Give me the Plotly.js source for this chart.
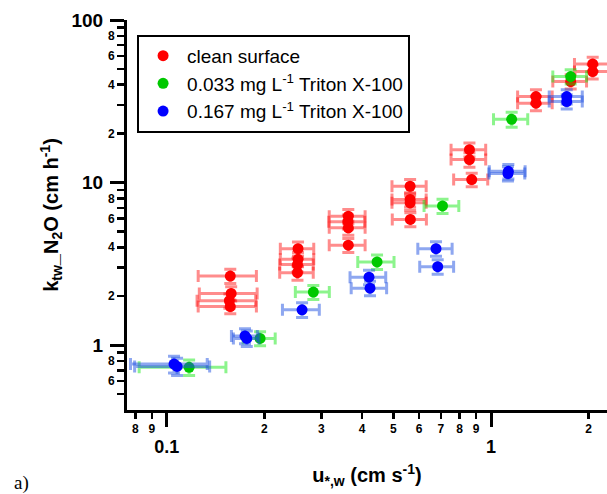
<!DOCTYPE html>
<html>
<head>
<meta charset="utf-8">
<script src="https://cdn.plot.ly/plotly-3.0.1.min.js"></script>
<style>html,body{margin:0;padding:0;background:#fff;}#chart{width:607px;height:494px;}</style>
</head>
<body>
<div id="chart"></div>
<script>
// ---- data ----
const seriesNames = ["clean surface", "0.033 mg L<sup>-1</sup> Triton X-100", "0.167 mg L<sup>-1</sup> Triton X-100"];

const cleanX    = [0.157, 0.158, 0.156, 0.157, 0.254, 0.254, 0.253, 0.253, 0.363, 0.362, 0.363, 0.363, 0.563, 0.563, 0.563, 0.564, 0.858, 0.858, 0.872, 1.376, 1.376, 1.761, 2.059, 2.059];
const cleanY    = [2.66, 2.08, 1.875, 1.727, 3.92, 3.37, 3.13, 2.79, 6.21, 5.75, 5.27, 4.12, 9.49, 7.87, 7.51, 5.93, 15.94, 13.84, 10.43, 33.8, 30.8, 41.8, 53.7, 48.2];
const cleanXerr = [0.032, 0.032, 0.032, 0.032, 0.03, 0.03, 0.03, 0.03, 0.046, 0.046, 0.046, 0.046, 0.068, 0.068, 0.068, 0.068, 0.105, 0.105, 0.105, 0.168, 0.168, 0.21, 0.25, 0.25];
const cleanYerr = [0.27, 0.21, 0.19, 0.17, 0.39, 0.34, 0.31, 0.28, 0.62, 0.57, 0.53, 0.41, 0.95, 0.79, 0.75, 0.59, 1.6, 1.4, 1.0, 3.4, 3.1, 4.2, 5.4, 4.8];

const lowX    = [0.1172, 0.194, 0.2832, 0.4452, 0.7087, 1.158, 1.761];
const lowY    = [0.730, 1.10, 2.12, 3.25, 7.18, 24.5, 44.9];
const lowXerr = [0.035, 0.022, 0.034, 0.057, 0.087, 0.14, 0.21];
const lowYerr = [0.08, 0.11, 0.21, 0.33, 0.72, 2.6, 4.5];

const highX    = [0.1053, 0.1076, 0.1743, 0.1765, 0.2614, 0.4205, 0.4235, 0.6767, 0.6848, 1.131, 1.128, 1.712, 1.712];
const highY    = [0.765, 0.740, 1.14, 1.10, 1.65, 2.62, 2.24, 3.92, 3.04, 11.73, 11.36, 33.8, 31.5];
const highXerr = [0.028, 0.028, 0.016, 0.016, 0.034, 0.053, 0.053, 0.082, 0.082, 0.143, 0.143, 0.2, 0.2];
const highYerr = [0.09, 0.09, 0.12, 0.12, 0.17, 0.27, 0.23, 0.4, 0.31, 1.2, 1.15, 3.4, 3.2];

// tick labels
const xMajorVals = [0.1, 1];
const xMajorText = ["0.1", "1"];
const xMinorVals = [0.08, 0.09, 0.2, 0.3, 0.4, 0.5, 0.6, 0.7, 0.8, 0.9, 2];
const xMinorText = ["8", "9", "2", "3", "4", "5", "6", "7", "8", "9", "2"];
const yMajorVals = [1, 10, 100];
const yMajorText = ["1", "10", "100"];
const yMinorVals = [0.5, 0.6, 0.7, 0.8, 0.9, 2, 3, 4, 5, 6, 7, 8, 9, 20, 30, 40, 50, 60, 70, 80, 90];
const yMinorText = ["", "6", "", "8", "", "2", "", "4", "", "6", "", "8", "", "2", "", "4", "", "6", "", "8", ""];

const FONT = "Arial, 'Liberation Sans', sans-serif";
const xRange = [Math.log10(0.0754), Math.log10(2.279)];
const yRange = [Math.log10(0.399), 2];

function mk(name, x, y, ex, ey, col, ebcol) {
  return {
    type: "scatter", mode: "markers", name: name, x: x, y: y,
    marker: {color: col, size: 11, line: {width: 0}},
    error_x: {type: "data", array: ex, visible: true, color: ebcol, thickness: 3, width: 6},
    error_y: {type: "data", array: ey, visible: true, color: ebcol, thickness: 3, width: 6},
    xaxis: "x", yaxis: "y"
  };
}

const traces = [
  mk(seriesNames[0], cleanX, cleanY, cleanXerr, cleanYerr, "#ff0000", "rgba(255,0,0,0.45)"),
  mk(seriesNames[1], lowX, lowY, lowXerr, lowYerr, "#00c800", "rgba(0,230,0,0.45)"),
  mk(seriesNames[2], highX, highY, highXerr, highYerr, "#0000ff", "rgba(30,80,225,0.5)"),
  // empty trace so the overlaid minor-tick axes get drawn
  {type: "scatter", mode: "markers", x: [], y: [], xaxis: "x2", yaxis: "y2", showlegend: false, hoverinfo: "skip"}
];

const axCommon = {type: "log", showgrid: false, zeroline: false, ticks: "outside", tickcolor: "#000", color: "#000"};

const layout = {
  width: 607, height: 494,
  margin: {l: 127, r: 0, t: 20, b: 84, pad: 0},
  paper_bgcolor: "#fff", plot_bgcolor: "#fff",
  font: {family: FONT, color: "#000"},
  showlegend: true,
  legend: {
    x: 0.021, y: 0.962, xanchor: "left", yanchor: "top",
    bordercolor: "#000", borderwidth: 2, bgcolor: "#fff",
    itemwidth: 38,
    font: {family: FONT, size: 19, color: "#000"}
  },
  xaxis: Object.assign({}, axCommon, {
    range: xRange, tickmode: "array", tickvals: xMajorVals, ticktext: xMajorText,
    ticklen: 14, tickwidth: 3, showline: true, linewidth: 3, linecolor: "#000",
    tickfont: {family: FONT, size: 18, weight: "bold"}, ticklabelstandoff: 4,
    title: {text: "u<sub>*,w</sub> (cm s<sup>-1</sup>)", font: {family: FONT, size: 20, weight: "bold"}, standoff: 13}
  }),
  xaxis2: Object.assign({}, axCommon, {
    range: xRange, overlaying: "x", anchor: "y", side: "bottom",
    tickmode: "array", tickvals: xMinorVals, ticktext: xMinorText,
    ticklen: 8, tickwidth: 2.5, showline: false,
    tickfont: {family: FONT, size: 12, weight: "bold"}, ticklabelstandoff: 0
  }),
  yaxis: Object.assign({}, axCommon, {
    range: yRange, tickmode: "array", tickvals: yMajorVals, ticktext: yMajorText,
    ticklen: 14, tickwidth: 3, showline: true, linewidth: 3, linecolor: "#000",
    tickfont: {family: FONT, size: 19, weight: "bold"}, ticklabelstandoff: 3,
    title: {text: "k<sub>tw</sub>_N<sub>2</sub>O (cm h<sup>-1</sup>)", font: {family: FONT, size: 20, weight: "bold"}, standoff: 8}
  }),
  yaxis2: Object.assign({}, axCommon, {
    range: yRange, overlaying: "y", anchor: "x", side: "left",
    tickmode: "array", tickvals: yMinorVals, ticktext: yMinorText,
    ticklen: 9, tickwidth: 2.5, showline: false,
    tickfont: {family: FONT, size: 12, weight: "bold"}, ticklabelstandoff: 0
  }),
  annotations: [{
    text: "a)", xref: "paper", yref: "paper", x: -0.24, y: -0.187,
    xanchor: "left", yanchor: "middle", showarrow: false,
    font: {family: "'Times New Roman', 'Liberation Serif', serif", size: 19, color: "#000"}
  }]
};

Plotly.newPlot("chart", traces, layout, {displayModeBar: false, staticPlot: true});
</script>
</body>
</html>
